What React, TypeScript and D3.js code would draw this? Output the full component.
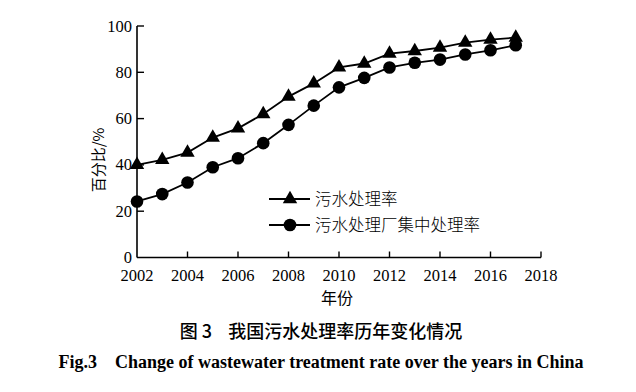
import * as d3 from "d3";
import React, { useEffect, useRef } from "react";

const years = [2002, 2003, 2004, 2005, 2006, 2007, 2008, 2009, 2010, 2011, 2012, 2013, 2014, 2015, 2016, 2017];
// 污水处理率
const treatRate = [40.0, 42.2, 45.3, 51.8, 55.8, 62.0, 69.5, 75.2, 82.1, 83.8, 88.1, 89.2, 90.7, 92.8, 94.1, 95.0];
// 污水处理厂集中处理率
const plantRate = [24.2, 27.4, 32.4, 39.0, 42.9, 49.4, 57.3, 65.6, 73.5, 77.6, 82.1, 84.1, 85.5, 87.7, 89.5, 91.7];
const xTicks = [2002, 2004, 2006, 2008, 2010, 2012, 2014, 2016, 2018];
const yTicks = [0, 20, 40, 60, 80, 100];
const legendLabels = ["污水处理率", "污水处理厂集中处理率"];

const serif = "'Liberation Serif', 'Times New Roman', serif";
const cjk = "'Noto Sans CJK SC', sans-serif";

export default function App() {
  const ref = useRef<SVGSVGElement>(null);

  useEffect(() => {
    const svg = d3.select(ref.current);
    svg.selectAll("*").remove();

    const left = 137, right = 541, top = 26, bottom = 257.5;

    const x = d3.scaleLinear().domain([2002, 2018]).range([left, right]);
    const y = d3.scaleLinear().domain([0, 100]).range([bottom, top]);

    const g = svg.append("g");

    // axes lines
    g.append("line").attr("x1", left).attr("x2", left).attr("y1", top).attr("y2", bottom)
      .attr("stroke", "#000").attr("stroke-width", 1.6);
    g.append("line").attr("x1", left).attr("x2", right).attr("y1", bottom).attr("y2", bottom)
      .attr("stroke", "#000").attr("stroke-width", 1.6);

    // y ticks (inward)
    yTicks.forEach((t) => {
      if (t > 0) {
        g.append("line").attr("x1", left).attr("x2", left + 7)
          .attr("y1", y(t)).attr("y2", y(t)).attr("stroke", "#000").attr("stroke-width", 1.4);
      }
      g.append("text").attr("x", left - 5).attr("y", y(t) + 5.5)
        .attr("text-anchor", "end").attr("font-family", serif).attr("font-size", 16.5)
        .text(t);
    });

    // x ticks (inward)
    xTicks.forEach((t) => {
      if (t > 2002) {
        g.append("line").attr("x1", x(t)).attr("x2", x(t))
          .attr("y1", bottom).attr("y2", bottom - 6).attr("stroke", "#000").attr("stroke-width", 1.4);
      }
      g.append("text").attr("x", x(t)).attr("y", 281)
        .attr("text-anchor", "middle").attr("font-family", serif).attr("font-size", 16.5)
        .text(t);
    });

    // axis titles
    g.append("text").attr("transform", "translate(104,160) rotate(-90)")
      .attr("text-anchor", "middle").attr("font-family", cjk).attr("font-size", 15)
      .text("百分比/%");
    g.append("text").attr("x", 337).attr("y", 304)
      .attr("text-anchor", "middle").attr("font-family", cjk).attr("font-size", 16)
      .text("年份");

    const line = d3.line<number>().x((_, i) => x(years[i])).y((d) => y(d));
    const tri = d3.symbol().type(d3.symbolTriangle).size(90);
    const circ = d3.symbol().type(d3.symbolCircle).size(125);

    // 污水处理率
    g.append("path").attr("d", line(treatRate)).attr("fill", "none")
      .attr("stroke", "#000").attr("stroke-width", 1.8);
    g.selectAll(".tri").data(treatRate).enter().append("path")
      .attr("d", tri).attr("fill", "#000")
      .attr("transform", (d, i) => `translate(${x(years[i])},${y(d)})`);

    // 污水处理厂集中处理率
    g.append("path").attr("d", line(plantRate)).attr("fill", "none")
      .attr("stroke", "#000").attr("stroke-width", 1.8);
    g.selectAll(".circ").data(plantRate).enter().append("path")
      .attr("d", circ).attr("fill", "#000")
      .attr("transform", (d, i) => `translate(${x(years[i])},${y(d)})`);

    // legend
    const legend = g.append("g");
    legendLabels.forEach((lab, i) => {
      const ly = 199 + i * 26;
      legend.append("line").attr("x1", 269).attr("x2", 310).attr("y1", ly).attr("y2", ly)
        .attr("stroke", "#000").attr("stroke-width", 1.8);
      legend.append("path").attr("d", i === 0 ? tri : circ).attr("fill", "#000")
        .attr("transform", `translate(290,${ly})`);
      legend.append("text").attr("x", 315).attr("y", ly + 6)
        .attr("font-family", cjk).attr("font-size", 16.5).attr("font-weight", 300).text(lab);
    });

    // captions
    g.append("text").attr("x", 321).attr("y", 338).attr("text-anchor", "middle")
      .attr("font-family", cjk).attr("font-size", 18).attr("font-weight", 500)
      .attr("xml:space", "preserve")
      .text("图 3    我国污水处理率历年变化情况");
    g.append("text").attr("x", 321).attr("y", 368).attr("text-anchor", "middle")
      .attr("font-family", serif).attr("font-size", 18).attr("font-weight", "bold")
      .attr("xml:space", "preserve")
      .text("Fig.3    Change of wastewater treatment rate over the years in China");
  }, []);

  return (
    <svg ref={ref} width={636} height={392}
      style={{ position: "absolute", left: 0, top: 0, background: "#fff" }} />
  );
}
